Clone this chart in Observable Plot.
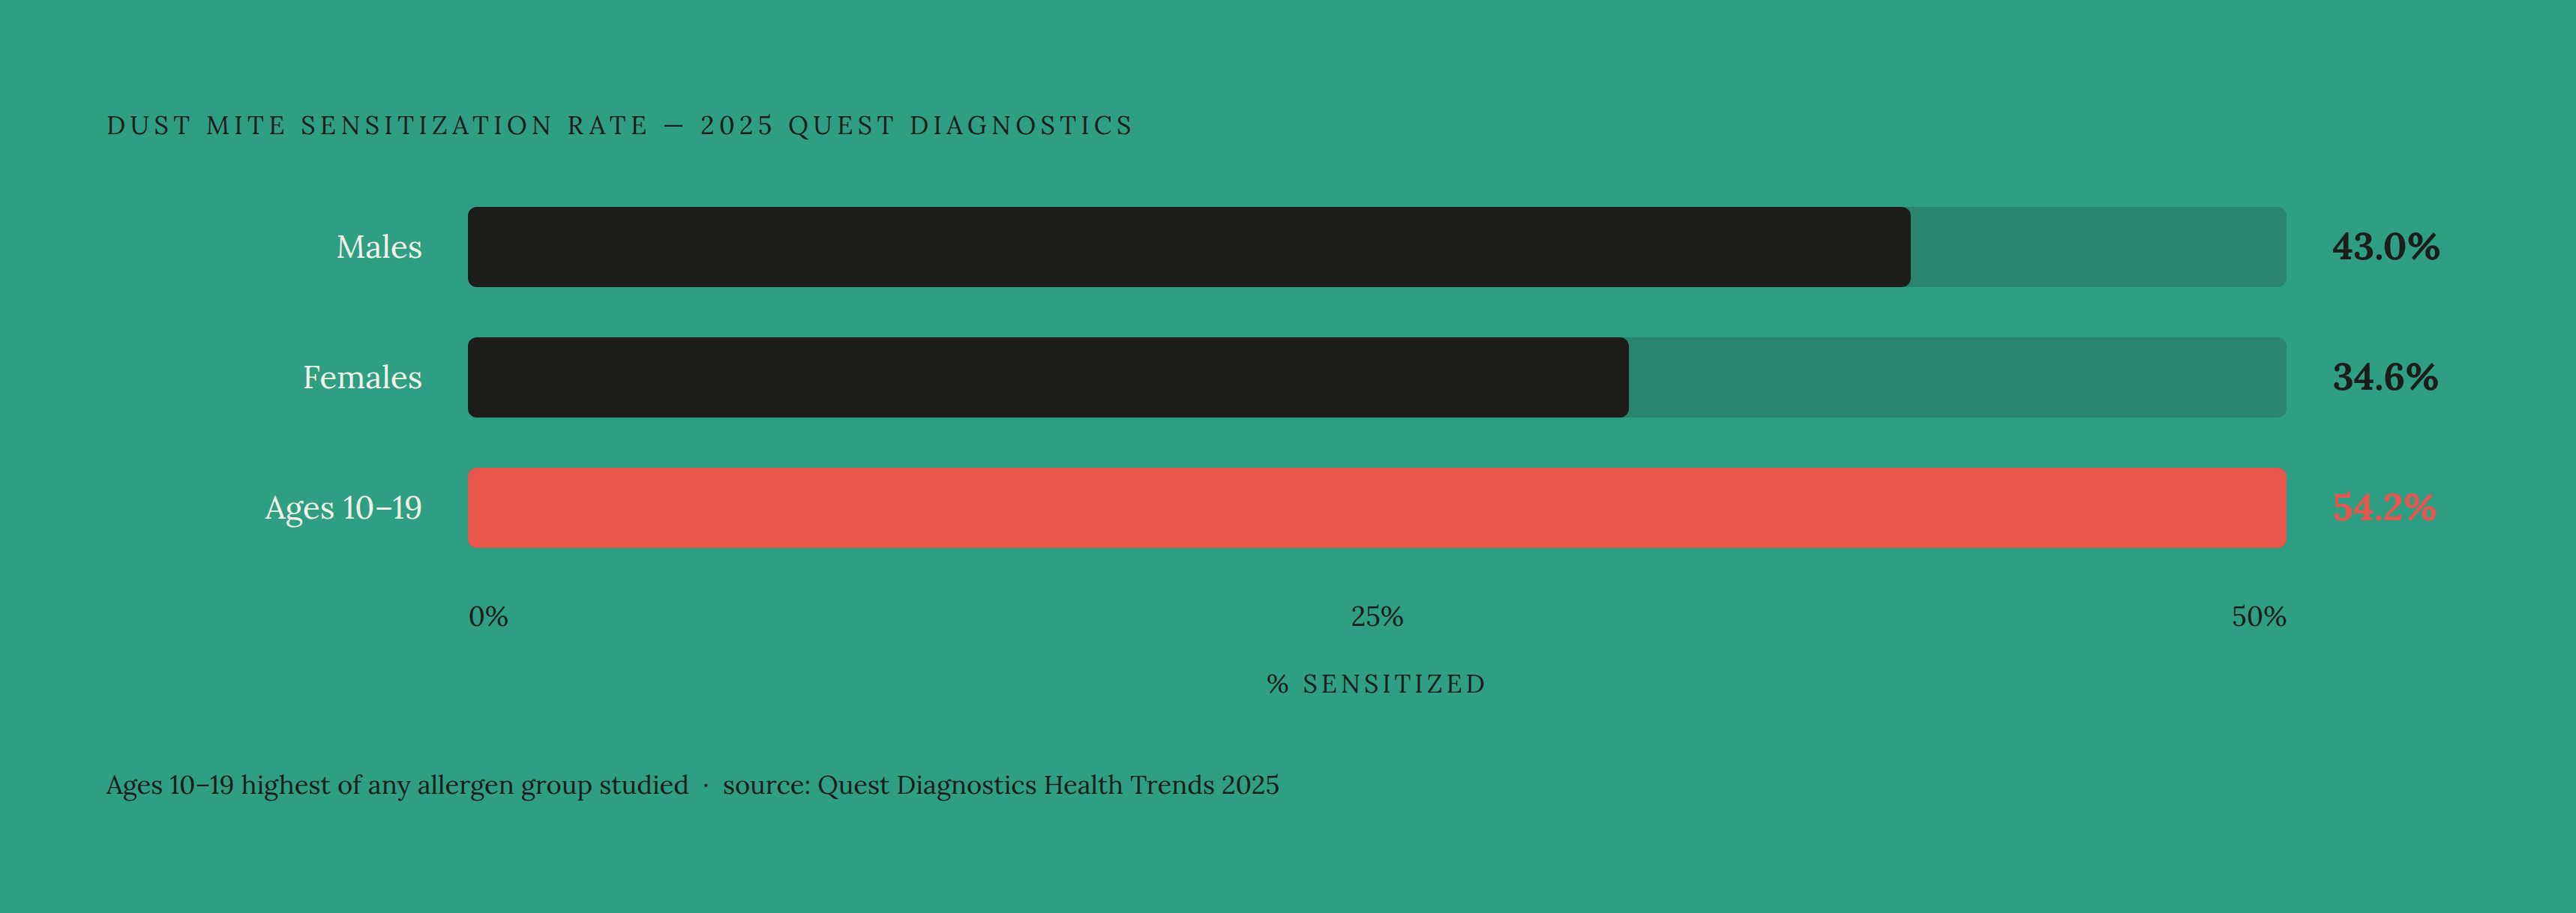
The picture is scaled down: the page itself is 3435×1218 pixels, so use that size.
<!DOCTYPE html>
<html>
<head>
<meta charset="utf-8">
<script src="https://cdn.jsdelivr.net/npm/d3@7"></script>
<script src="https://cdn.jsdelivr.net/npm/@observablehq/plot@0.6"></script>
<style>
  html, body { margin: 0; padding: 0; background: #2e9f82; }
  body { width: 3435px; height: 1218px; position: relative; overflow: hidden;
         font-family: Lora, "Liberation Serif", serif; color: #1c1c1a; }
  #title { position: absolute; left: 142px; top: 150px; font-size: 34px; line-height: 34px;
           letter-spacing: 6.4px; white-space: nowrap; }
  #chart { position: absolute; left: 0; top: 200px; }
  #caption { position: absolute; left: 142px; top: 1029px; font-size: 34.6px; line-height: 34.6px;
             white-space: pre; }
</style>
</head>
<body>
<div id="title"></div>
<div id="chart"></div>
<div id="caption"></div>
<script>
const titleText = "DUST MITE SENSITIZATION RATE — 2025 QUEST DIAGNOSTICS";
const captionText = "Ages 10–19 highest of any allergen group studied  ·  source: Quest Diagnostics Health Trends 2025";
const axisLabel = "% SENSITIZED";

const categories = ["Males", "Females", "Ages 10–19"];
const values = [43.0, 34.6, 54.2];
const highlight = [false, false, true];
const tickLabels = ["0%", "25%", "50%"];
const tickFractions = [0, 0.5, 1];
const tickAnchors = ["start", "middle", "end"];

document.getElementById("title").textContent = titleText;
document.getElementById("caption").textContent = captionText;

const maxV = d3.max(values);
const rows = categories.map((c, i) => ({cat: c, value: values[i], hi: highlight[i], max: maxV}));
const ticks = tickLabels.map((t, i) => ({label: t, x: tickFractions[i] * maxV, anchor: tickAnchors[i]}));

const dark = "#1c1c1a", red = "#e8564d", track = "#29866c", light = "#f4f1e8";
const font = 'Lora, "Liberation Serif", serif';

const plot = Plot.plot({
  width: 3435,
  height: 800,
  marginLeft: 624,
  marginRight: 386,
  marginTop: 42.5,
  marginBottom: 235.5,
  style: {background: "transparent", fontFamily: font, overflow: "visible"},
  x: {domain: [0, maxV], axis: null},
  y: {domain: categories, axis: null, paddingInner: 0.385, paddingOuter: 0.1925},
  marks: [
    Plot.barX(rows, {y: "cat", x1: 0, x2: "max", fill: track, rx: 12}),
    Plot.barX(rows, {y: "cat", x1: 0, x2: "value", fill: d => d.hi ? red : dark, rx: 12}),
    Plot.text(rows, {y: "cat", text: "cat", frameAnchor: "left", textAnchor: "end", dx: -61,
                     fill: light, fontSize: 42.5}),
    Plot.text(rows, {y: "cat", text: d => d.value.toFixed(1) + "%", frameAnchor: "right", textAnchor: "start",
                     dx: 61, fill: d => d.hi ? red : dark, fontSize: 50.5, fontWeight: "bold"}),
    ...tickAnchors.map(a => Plot.text(ticks.filter(t => t.anchor === a), {
      x: "x", text: "label", frameAnchor: "bottom", textAnchor: a, dy: 70, fill: dark, fontSize: 36})),
    Plot.text([axisLabel], {text: d => d, frameAnchor: "bottom", dy: 159, fill: dark, fontSize: 34})
  ]
});
d3.select(plot).selectAll("text").filter(function() { return this.textContent === axisLabel; })
  .style("letter-spacing", "5px");
document.getElementById("chart").appendChild(plot);
</script>
</body>
</html>
